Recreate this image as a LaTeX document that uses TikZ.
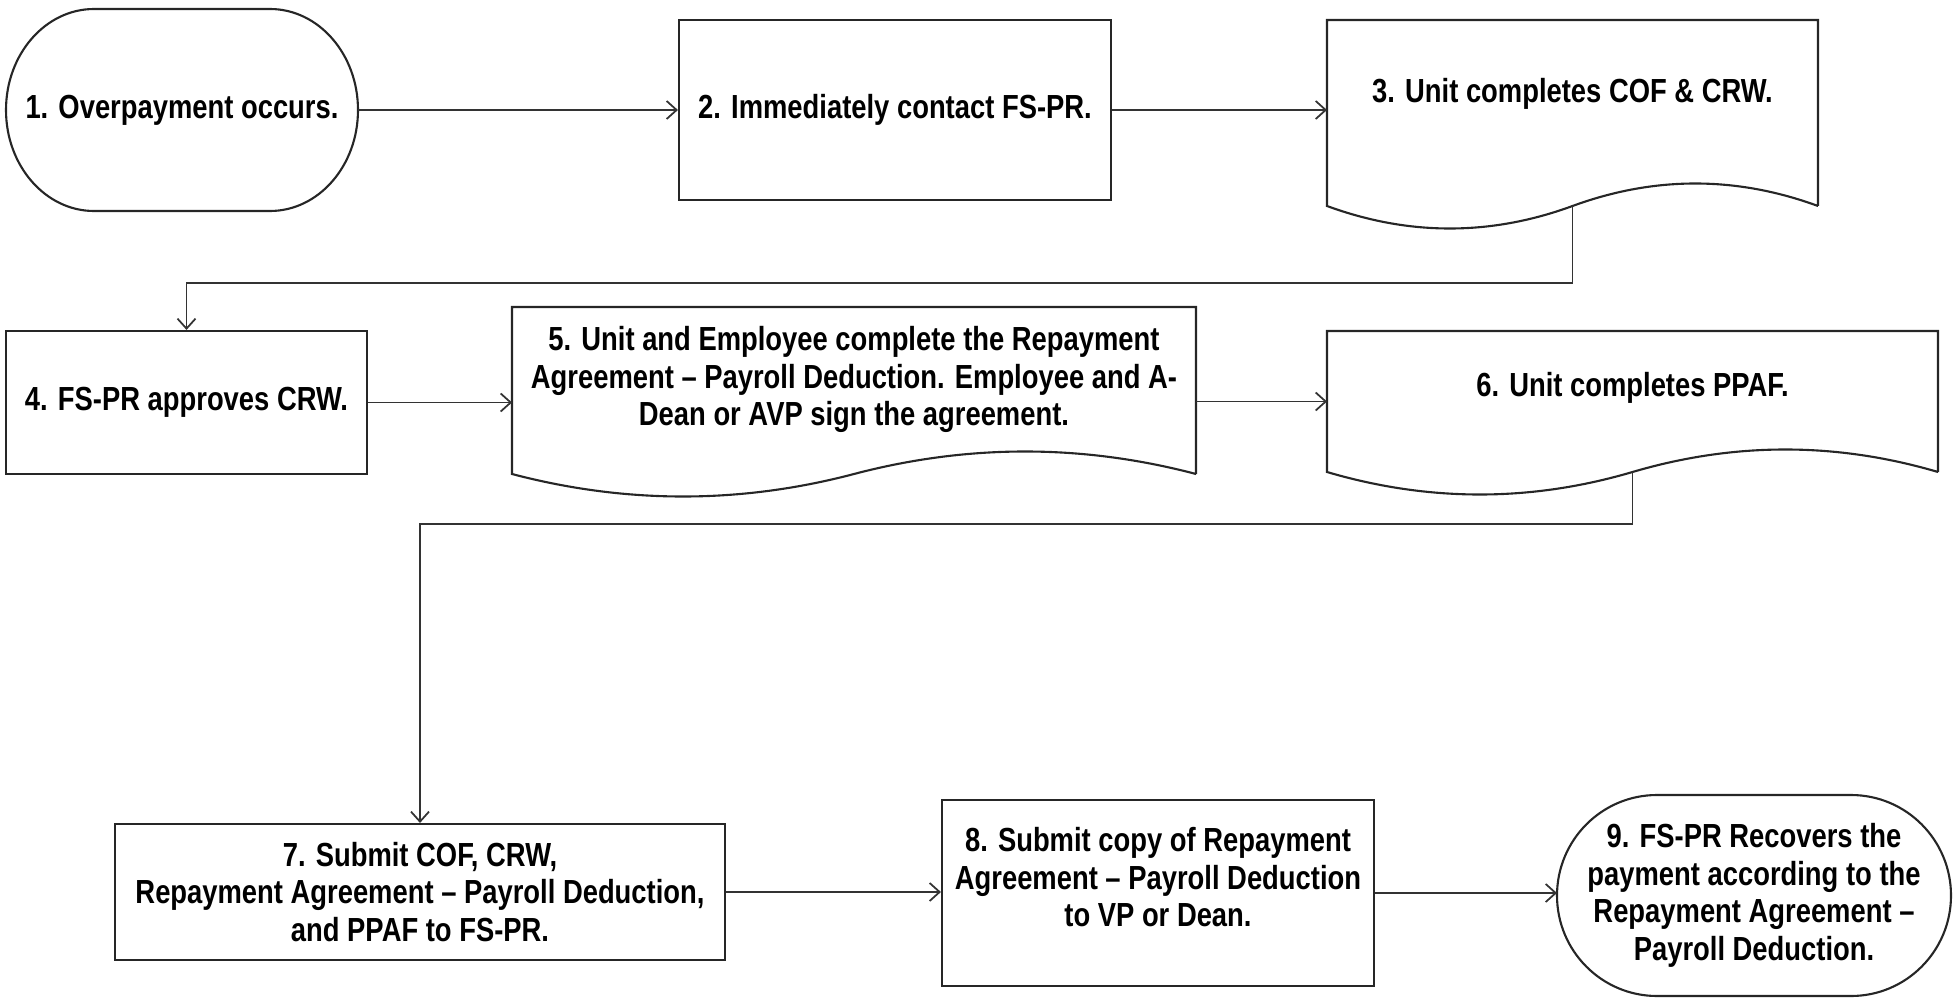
\documentclass[tikz,border=0pt]{standalone}
\usepackage{fontspec}
\setmainfont{Liberation Sans}[FakeStretch=0.82]
\usepackage{tikz}
\usetikzlibrary{positioning,arrows.meta,calc}
\tikzset{
  passo/.style={draw=black!85, line width=0.6pt, align=center, inner sep=2pt,
                font=\fontsize{9.5}{10.7}\selectfont\bfseries},
  contorno/.style={passo, draw=none, outer sep=0pt},
  forma/.style={draw=black!85, line width=0.6pt},
  seta/.style={-{Straight Barb[length=1mm, width=1.8mm]}, line width=0.5pt, black!80},
}
% documento: lados retos, base ondulada (#1 no, #2 altura de controle da onda)
\newcommand{\docforma}[2]{%
  \draw[forma] (#1.south east) -- (#1.north east) -- (#1.north west) -- (#1.south west)
    .. controls ($(#1.south west)!0.333!(#1.south)+(0,-#2)$) and ($(#1.south west)!0.667!(#1.south)+(0,-#2)$) .. (#1.south)
    .. controls ($(#1.south)!0.333!(#1.south east)+(0,#2)$) and ($(#1.south)!0.667!(#1.south east)+(0,#2)$) .. (#1.south east);
}
% terminal: topo e base retos, lados em meia elipse (#1 no, #2 raio x, #3 raio y)
\newcommand{\termforma}[3]{%
  \draw[forma] ([xshift=#2 cm]#1.north west) -- ([xshift=-#2 cm]#1.north east)
    arc[start angle=90, end angle=-90, x radius=#2, y radius=#3]
    -- ([xshift=#2 cm]#1.south west)
    arc[start angle=270, end angle=90, x radius=#2, y radius=#3] -- cycle;
}

\begin{document}
\begin{tikzpicture}[x=1cm,y=1cm]

    \useasboundingbox (0,0) rectangle (19.57,-10.02);

    %% ---------- linha 1 ----------
    \node[contorno, minimum width=3.52cm, minimum height=2.02cm] (pOver) at (1.82,-1.10) {1. Overpayment occurs.};
    \node[passo, minimum width=4.32cm, minimum height=1.80cm] (pContact) at (8.95,-1.10) {2. Immediately contact FS-PR.};
    \node[contorno, minimum width=4.91cm, minimum height=1.86cm, text depth=0.45cm] (pCof) at (15.725,-1.13) {3. Unit completes COF \& CRW.};

    %% ---------- linha 2 ----------
    \node[passo, minimum width=3.61cm, minimum height=1.43cm] (pApprove) at (1.865,-4.025) {4. FS-PR approves CRW.};
    \node[contorno, minimum width=6.84cm, minimum height=1.67cm, text depth=0.29cm] (pAgree) at (8.54,-3.905)
      {5. Unit and Employee complete the Repayment\\Agreement -- Payroll Deduction. Employee and A-\\Dean or AVP sign the agreement.};
    \node[contorno, minimum width=6.11cm, minimum height=1.41cm, text depth=0.35cm] (pPpaf) at (16.325,-4.015) {6. Unit completes PPAF.};

    %% ---------- linha 3 ----------
    \node[passo, minimum width=6.10cm, minimum height=1.36cm] (pSubmit) at (4.20,-8.92)
      {7. Submit COF, CRW,\\Repayment Agreement -- Payroll Deduction,\\and PPAF to FS-PR.};
    \node[passo, minimum width=4.32cm, minimum height=1.86cm, text depth=0.32cm] (pCopy) at (11.58,-8.93)
      {8. Submit copy of Repayment\\Agreement -- Payroll Deduction\\to VP or Dean.};
    \node[contorno, minimum width=3.94cm, minimum height=2.01cm] (pRecover) at (17.54,-8.955)
      {9. FS-PR Recovers the\\payment according to the\\Repayment Agreement --\\Payroll Deduction.};

    %% ---------- contornos ----------
    \termforma{pOver}{0.88}{1.01}
    \termforma{pRecover}{1.00}{1.005}
    \docforma{pCof}{0.30}
    \docforma{pAgree}{0.30}
    \docforma{pPpaf}{0.30}

    %% ---------- setas ----------
    \draw[seta] (pOver.east) -- (pContact.west);
    \draw[seta] (pContact.east) -- (pContact.east -| pCof.west);
    \draw[seta] (pCof.south) -- ++(0,-0.77) -| (pApprove.north);
    \draw[seta] (pApprove.east) -- (pApprove.east -| pAgree.west);
    \draw[seta] (pPpaf.west -| pAgree.east) -- (pPpaf.west);
    \draw[seta] (pPpaf.south) -- ++(0,-0.52) -| (pSubmit.north);
    \draw[seta] (pSubmit.east) -- (pSubmit.east -| pCopy.west);
    \draw[seta] (pCopy.east) -- (pCopy.east -| pRecover.west);

\end{tikzpicture}
\end{document}
